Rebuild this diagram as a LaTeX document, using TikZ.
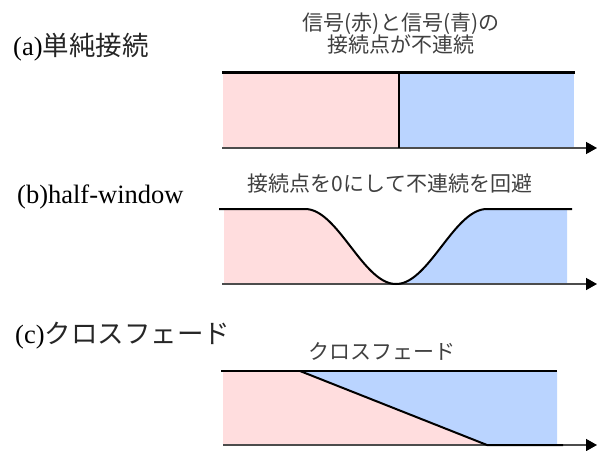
\documentclass[tikz,border=0pt]{standalone}
\usepackage{fontspec}
\setmainfont{Liberation Serif}
\newfontfamily\jp{Noto Sans CJK JP}
\usetikzlibrary{arrows.meta}
\definecolor{rfill}{RGB}{255,221,222}
\definecolor{bfill}{RGB}{186,212,255}
\tikzset{
  sig/.style={line width=2.3pt, black},
  axisline/.style={line width=1.5pt, black!70, -{Triangle[length=11pt,width=12pt,color=black]}},
  lbl/.style={anchor=west, inner sep=0pt, font=\fontsize{26.5}{30}\selectfont},
  note/.style={inner sep=0pt, text=black!75, font=\jp\fontsize{21}{24}\selectfont},
}
\begin{document}
\begin{tikzpicture}[x=1pt,y=-1pt]
\useasboundingbox (0,0) rectangle (597,450);

% ---------- (a) ----------
\node[lbl] (la) at (13,47) {(a){\jp\color{black!85}単純接続}};
\node[note] (na1) at (401,24) {信号(赤)と信号(青)の};
\node[note] (na2) at (401,44) {接続点が不連続};
\coordinate (aTL) at (222,72.5);
\coordinate (aTR) at (575,72.5);
\coordinate (aMT) at (399,72.5);
\coordinate (aMB) at (399,148);
\coordinate (aBL) at (222,148);
\coordinate (aEnd) at (597,148);
\fill[rfill] (223,72.5) rectangle (398,148);
\fill[bfill] (400,72.5) rectangle (574,148);
\draw[axisline] (aBL) -- (aEnd);
\draw[sig] (aTL) -- (aTR);
\draw[sig,line width=2.6pt] (aMT) -- (aMB);

% ---------- (b) ----------
\node[lbl] (lb) at (17,197) {(b)half-window};
\node[note] (nb) at (390,184) {接続点を0にして不連続を回避};
\coordinate (bTL) at (219,209);
\coordinate (bS) at (305,209);
\coordinate (bM) at (396,284);
\coordinate (bE) at (487,209);
\coordinate (bTR) at (572,209);
\coordinate (bBL) at (222,284);
\coordinate (bEnd) at (597,284);
\fill[rfill] (224,209) -- (bS) -- plot[domain=305:396,samples=50] (\x,{209+37.5*(1-cos((\x-305)*1.978))}) -- (224,284) -- cycle;
\fill[bfill] (bM) -- plot[domain=396:487,samples=50] (\x,{209+37.5*(1+cos((\x-396)*1.978))}) -- (567,209) -- (567,284) -- cycle;
\draw[axisline] (bBL) -- (bEnd);
\draw[sig,line width=2pt,line join=round] (bTL) -- (bS)
  -- plot[domain=305:396,samples=50] (\x,{209+37.5*(1-cos((\x-305)*1.978))})
  -- plot[domain=396:487,samples=50] (\x,{209+37.5*(1+cos((\x-396)*1.978))})
  -- (bTR);

% ---------- (c) ----------
\node[lbl] (lc) at (15,336) {(c){\jp\color{black!85}クロスフェード}};
\node[note] (nc) at (382,351) {クロスフェード};
\coordinate (cTL) at (221,371);
\coordinate (cS) at (300,371);
\coordinate (cTR) at (557,371);
\coordinate (cE) at (487,445);
\coordinate (cF) at (563,445);
\coordinate (cBL) at (223,445);
\coordinate (cEnd) at (597,445);
\fill[rfill] (223,371) -- (cS) -- (cE) -- (cBL) -- cycle;
\fill[bfill] (cS) -- (cTR) -- (557,445) -- (cE) -- cycle;
\draw[axisline] (cBL) -- (cEnd);
\draw[sig,line join=round] (cTL) -- (cTR);
\draw[sig,line width=2pt,line join=round] (cS) -- (cE) -- (cF);
\end{tikzpicture}
\end{document}
